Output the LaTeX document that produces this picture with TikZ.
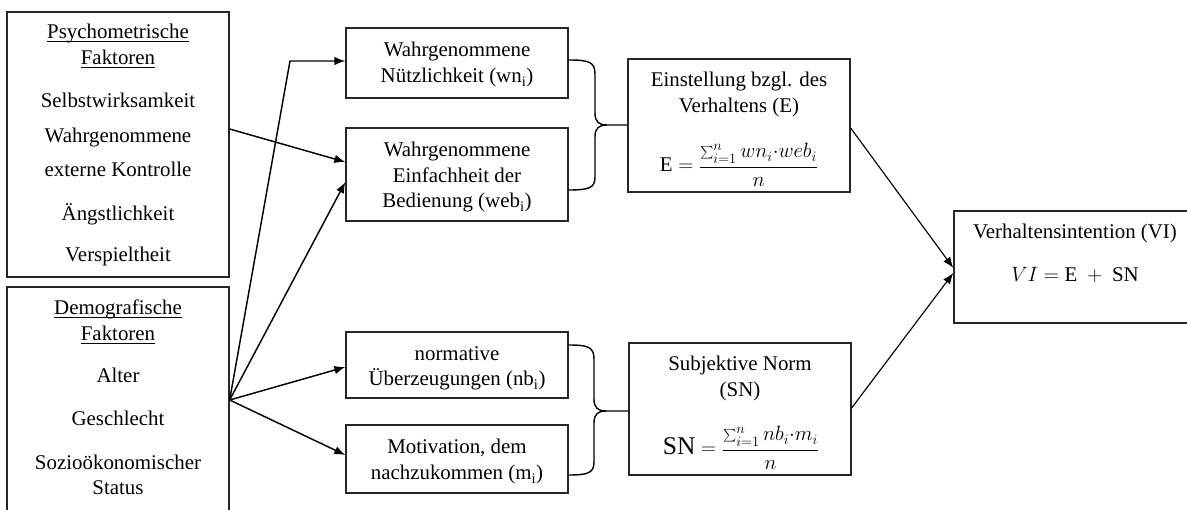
\documentclass[tikz,border=0pt]{standalone}
\usepackage{fontspec}
\setmainfont{Liberation Serif}
\usetikzlibrary{arrows.meta}
% underline set a little below the baseline, crossing descenders
\newcommand\myul[1]{\setbox0\hbox{#1}\rlap{\rule[-3pt]{\wd0}{0.9pt}}\box0}
% slightly enlarged summation sign for the inline fractions
\newcommand\bigsum{\mathop{\vcenter{\hbox{\scalebox{1.25}{$\textstyle\sum$}}}}\nolimits}
\begin{document}
\begin{tikzpicture}[x=1pt,y=-1pt,
  box/.style={draw=black!85,line width=1.3pt,inner sep=0pt},
  txt/.style={anchor=base,inner sep=0pt,font=\fontsize{20.9}{25}\selectfont},
  arr/.style={line width=1.45pt,-{Latex[length=11pt,width=8.5pt]}},
  thinarr/.style={line width=1.15pt,-{Latex[length=11pt,width=8.5pt]}},
  brace/.style={line width=1.4pt,line join=round}]
\clip (0,0) rectangle (1187,510);
\fill[white] (0,0) rectangle (1187,510);

% ---- boxes ----
\node[box,minimum width=222pt,minimum height=265pt] (P)   at (118,144.5) {};
\node[box,minimum width=222pt,minimum height=243pt] (D)   at (118,408.5) {};
\node[box,minimum width=222pt,minimum height=70pt]  (wn)  at (457,63) {};
\node[box,minimum width=222pt,minimum height=93pt]  (web) at (457,174.5) {};
\node[box,minimum width=222pt,minimum height=66pt]  (nb)  at (457,365) {};
\node[box,minimum width=222pt,minimum height=68pt]  (m)   at (457,459) {};
\node[box,minimum width=222pt,minimum height=133pt] (E)   at (739,125.5) {};
\node[box,minimum width=222pt,minimum height=132pt] (SN)  at (740,409) {};
\node[box,minimum width=246pt,minimum height=112pt] (VI)  at (1077,267) {};

% ---- psychometric factors ----
\node[txt] (p1) at (118,39)  {\myul{Psychometrische}};
\node[txt] (p2) at (118,65)  {\myul{Faktoren}};
\node[txt] (p3) at (118,108) {Selbstwirksamkeit};
\node[txt] (p4) at (118,143) {Wahrgenommene};
\node[txt] (p5) at (118,177) {externe Kontrolle};
\node[txt] (p6) at (118,221) {Ängstlichkeit};
\node[txt] (p7) at (118,262) {Verspieltheit};

% ---- demographic factors ----
\node[txt] (d1) at (118,315) {\myul{Demografische}};
\node[txt] (d2) at (118,341) {\myul{Faktoren}};
\node[txt] (d3) at (118,383) {Alter};
\node[txt] (d4) at (118,426) {Geschlecht};
\node[txt] (d5) at (118,470) {Sozioökonomischer};
\node[txt] (d6) at (118,495) {Status};

% ---- beliefs ----
\node[txt] (wn1)  at (457,57)  {Wahrgenommene};
\node[txt] (wn2)  at (457,83)  {Nützlichkeit (wn\textsubscript{i})};
\node[txt] (web1) at (457,157) {Wahrgenommene};
\node[txt] (web2) at (457,183) {Einfachheit der};
\node[txt] (web3) at (457,208) {Bedienung (web\textsubscript{i})};
\node[txt] (nb1)  at (457,361) {normative};
\node[txt] (nb2)  at (457,386) {Überzeugungen (nb\textsubscript{i})};
\node[txt] (m1)   at (457,454) {Motivation, dem};
\node[txt] (m2)   at (457,480) {nachzukommen (m\textsubscript{i})};

% ---- attitude and subjective norm ----
\node[txt] (e1) at (739,87)  {Einstellung bzgl. des};
\node[txt] (e2) at (739,113) {Verhaltens (E)};
\node[txt] (e3) at (739,172) {$\displaystyle \mathrm{E}=\frac{\bigsum_{i=1}^{n} wn_i{\cdot}web_i}{n}$};
\node[txt] (s1) at (740,371) {Subjektive Norm};
\node[txt] (s2) at (740,397) {(SN)};
\node[txt] (s3) at (741,455) {$\displaystyle \mbox{\fontsize{25.5}{26}\selectfont SN}=\frac{\bigsum_{i=1}^{n} nb_i{\cdot}m_i}{n}$};

% ---- behavioural intention ----
\node[txt] (v1) at (1075,239) {Verhaltensintention (VI)};
\node[txt] (v2) at (1075,282) {$VI=\mathrm{E}\ +\ \mathrm{SN}$};

% ---- arrows from the factor boxes ----
\coordinate (fan) at (D.east |- 0,400);
\draw[arr] (P.east |- 0,129) -- (web.west |- 0,162);
\draw[arr] (fan) -- (290,61) -- (wn.west |- 0,61);
\draw[arr] (fan) -- (web.west |- 0,182);
\draw[arr] (fan) -- (nb.west |- 0,367);
\draw[arr] (fan) -- (m.west |- 0,455);

% ---- braces joining the belief pairs ----
\draw[brace] (wn.east |- 0,60) .. controls (589,60) and (595,62) .. (595,74)
  -- (595,113) .. controls (595,122) and (599,125) .. (607,125) -- (E.west |- 0,125);
\draw[brace] (607,125) .. controls (599,125) and (595,128) .. (595,137)
  -- (595,177) .. controls (595,188) and (589,190) .. (web.east |- 0,190);
\draw[brace] (nb.east |- 0,345) .. controls (588,345) and (594,347) .. (594,359)
  -- (594,399) .. controls (594,408) and (598,411) .. (606,411) -- (SN.west |- 0,411);
\draw[brace] (606,411) .. controls (598,411) and (594,414) .. (594,423)
  -- (594,462) .. controls (594,473) and (588,475) .. (m.east |- 0,475);

% ---- arrows into the intention ----
\draw[thinarr] (E.east |- 0,128) -- (VI.west |- 0,268);
\draw[thinarr] (SN.east |- 0,408) -- (VI.west |- 0,273);
\end{tikzpicture}
\end{document}
